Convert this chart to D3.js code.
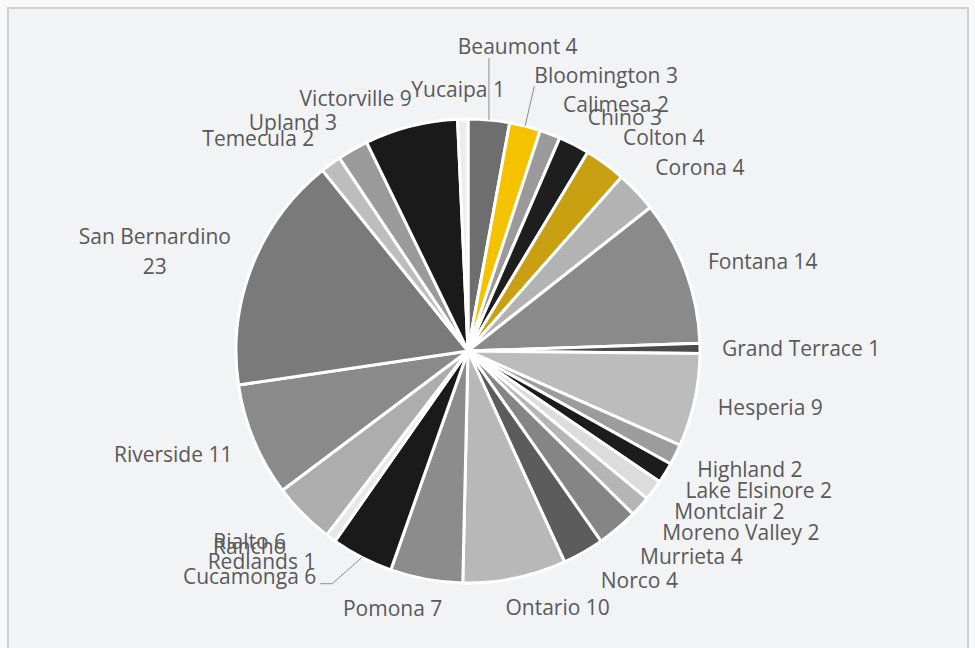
<!DOCTYPE html>
<html><head><meta charset="utf-8">
<script src="https://cdn.jsdelivr.net/npm/d3@7/dist/d3.min.js"></script>
<style>html,body{margin:0;padding:0;background:#f9f9f9;} svg{display:block}</style>
</head><body>
<svg id="chart" width="975" height="648"></svg>
<script>
const cities = ["Beaumont","Bloomington","Calimesa","Chino","Colton","Corona","Fontana","Grand Terrace","Hesperia","Highland","Lake Elsinore","Montclair","Moreno Valley","Murrieta","Norco","Ontario","Pomona","Rancho Cucamonga","Redlands","Rialto","Riverside","San Bernardino","Temecula","Upland","Victorville","Yucaipa"];
const counts = [4,3,2,3,4,4,14,1,9,2,2,2,2,4,4,10,7,6,1,6,11,23,2,3,9,1];

const sliceColors = ["#6e6e6e","#f5c200","#9a9a9a","#1e1e1e","#c9a012","#b3b3b3","#8a8a8a","#4a4a4a","#bcbcbc","#9c9c9c","#1c1c1c","#dcdcdc","#b5b5b5","#858585","#5c5c5c","#b8b8b8","#8c8c8c","#1a1a1a","#e8e8e8","#adadad","#8a8a8a","#7a7a7a","#bdbdbd","#9a9a9a","#1a1a1a","#ececec"];
const labelNudges = [[21,-37],[57,-16],[38,4],[22,5],[19,3],[12,1],[1,3],[-4,1],[-1,0],[4,-1],[9,-1],[11,0],[23,2],[24,1],[24,-3],[27,-6],[-20,-6],[-70,-41],[-22,-5],[-9,2],[-2,0],[-2,4],[-24,4],[-25,4],[-35,7],[-3,7]];

const W = 975, H = 648, cx = 468, cy = 351, R = 232;
const FONT = "21px 'Open Sans', sans-serif";
const LH = 30, LINE_H = 20, WRAP = 165, GAP = 26;

const svg = d3.select('#chart');
svg.append('rect').attr('x',0).attr('y',0).attr('width',W).attr('height',H).attr('fill','#f9f9f9');
svg.append('rect').attr('x',8).attr('y',8).attr('width',960).attr('height',660)
  .attr('fill','#f2f3f5').attr('stroke','#d0d0d0').attr('stroke-width',2);

const data = cities.map((c,i)=>({city:c, value:counts[i], color:sliceColors[i], nudge:labelNudges[i]}));
const pie = d3.pie().sort(null).value(d=>d.value);
const arcs = pie(data);
const arc = d3.arc().innerRadius(0).outerRadius(R);

const g = svg.append('g').attr('transform',`translate(${cx},${cy})`);
g.selectAll('path.slice').data(arcs).join('path').attr('class','slice')
  .attr('d',arc).attr('fill',d=>d.data.color)
  .attr('stroke','#ffffff').attr('stroke-width',3).attr('stroke-linejoin','round');

// measuring helper
const meas = svg.append('text').style('font',FONT).attr('visibility','hidden');
function tw(s){ meas.text(s); return meas.node().getComputedTextLength(); }
function wrap(s){
  if (tw(s) <= WRAP) return [s];
  const words = s.split(' '); const lines = []; let cur = '';
  for (const w of words){
    const t = cur ? cur + ' ' + w : w;
    if (cur && tw(t) > WRAP){ lines.push(cur); cur = w; } else cur = t;
  }
  if (cur) lines.push(cur);
  return lines;
}

const labelG = svg.append('g');
const leaderG = svg.append('g');
arcs.forEach(a=>{
  const mid = (a.startAngle + a.endAngle)/2;
  const ux = Math.sin(mid), uy = -Math.cos(mid);
  const lines = wrap(`${a.data.city} ${a.data.value}`);
  const w = d3.max(lines, tw);
  const h = LINE_H + (lines.length-1)*LH;
  const ax = cx + (R+GAP)*ux, ay = cy + (R+GAP)*uy;
  const bx = ax + ux*w/2, by = ay + uy*h/2;
  const [dx,dy] = a.data.nudge;
  const lx = bx + dx, ly = by + dy;
  const t = labelG.append('text').style('font',FONT).attr('fill','#595959').attr('text-anchor','middle');
  lines.forEach((ln,i)=>{
    t.append('tspan').attr('x',lx).attr('y', ly - (lines.length-1)*LH/2 + i*LH).attr('dy','0.35em').text(ln);
  });
  if (Math.hypot(dx,dy) > 40){
    const px = cx + R*ux, py = cy + R*uy;
    const left = lx - w/2, right = lx + w/2, top = ly - h/2, bottom = ly + h/2;
    let pts;
    if (bottom < py && px > left - 20 && px < right + 20){
      const sx = Math.max(left, Math.min(right, px));
      pts = [[sx, bottom + 1], [px, py]];
    } else if (right < px){
      const sy = bottom - 3;
      pts = [[right + 4, sy], [right + 16, sy], [px, py]];
    } else {
      const sy = bottom - 3;
      pts = [[left - 4, sy], [left - 16, sy], [px, py]];
    }
    leaderG.append('path').attr('d', d3.line()(pts)).attr('fill','none')
      .attr('stroke','#8c8c8c').attr('stroke-width',1);
  }
});
meas.remove();
</script>
</body></html>
